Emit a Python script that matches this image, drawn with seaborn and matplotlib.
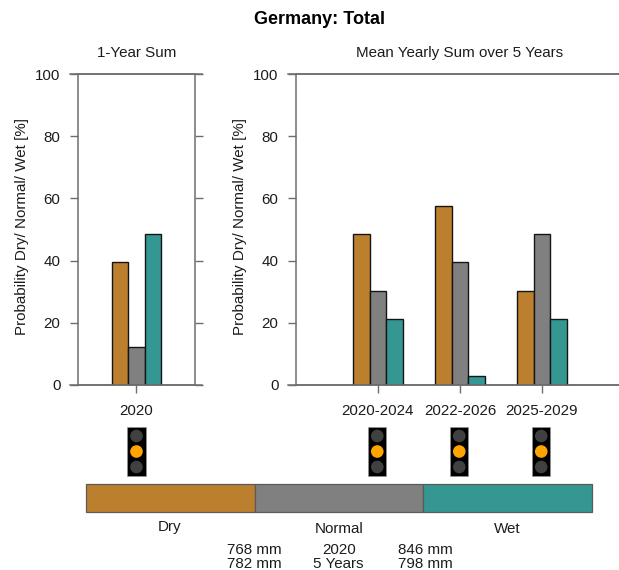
import matplotlib
matplotlib.use("Agg")
import matplotlib.pyplot as plt
from matplotlib.patches import Circle, Rectangle
import pandas as pd
import seaborn as sns

# Probabilities in percent
classes = ["Dry", "Normal", "Wet"]
year_periods = ["2020"]
year_values = [39.4, 12.1, 48.5]
multi_periods = ["2020-2024", "2022-2026", "2025-2029"]
multi_dry = [48.5, 57.6, 30.3]
multi_normal = [30.3, 39.4, 48.5]
multi_wet = [21.2, 3.0, 21.2]
colors = ["#BC7F2E", "#808080", "#359791"]
light_active = 1  # middle lamp lit on every signal
thresholds_low = ["768 mm", "782 mm"]
thresholds_mid = ["2020", "5 Years"]
thresholds_high = ["846 mm", "798 mm"]

W, H = 619, 570
AXC = "#6e6e6e"
TXT = "#1c1c1c"

plt.rcParams["font.family"] = ["Liberation Sans", "DejaVu Sans"]
plt.rcParams["font.size"] = 10.9
plt.rcParams["text.color"] = TXT
plt.rcParams["axes.labelcolor"] = TXT
plt.rcParams["xtick.labelcolor"] = TXT
plt.rcParams["ytick.labelcolor"] = TXT

fig = plt.figure(figsize=(W / 100, H / 100), dpi=100)


def pix_axes(x0, x1, y0, y1):
    return fig.add_axes([x0 / W, 1 - y1 / H, (x1 - x0) / W, (y1 - y0) / H])


def draw_bars(ax, periods, values, xlim, title, title_x):
    df = pd.DataFrame({
        "period": [p for p in periods for _ in classes],
        "cls": classes * len(periods),
        "value": values,
    })
    sns.barplot(data=df, x="period", y="value", hue="cls", hue_order=classes,
                palette=colors, width=0.6, gap=0, saturation=1, legend=False,
                edgecolor="#151515", linewidth=1, ax=ax, zorder=3)
    ax.set_xlim(*xlim)
    ax.set_ylim(0, 100)
    ax.set_yticks(range(0, 101, 20))
    ax.set_xlabel("")
    ax.set_ylabel("Probability Dry/ Normal/ Wet [%]", labelpad=4.6, y=0.51)
    ax.set_title(title, fontsize=10.9, pad=12.5, color=TXT, x=title_x)
    ax.tick_params(axis="x", length=5.6, width=1, color=AXC, pad=8)
    ax.tick_params(axis="y", length=5.6, width=1, color=AXC, pad=7)
    for s in ax.spines.values():
        s.set_color(AXC)
        s.set_linewidth(1.1)


ax1 = pix_axes(78, 194.5, 74, 385)
draw_bars(ax1, year_periods, year_values, (-0.713, 0.707), "1-Year Sum", 0.5)
ax1.tick_params(axis="y", right=True)

ax2 = pix_axes(296, 619, 74, 385)
multi_values = [v for row in zip(multi_dry, multi_normal, multi_wet) for v in row]
draw_bars(ax2, multi_periods, multi_values, (-1.0, 2.94), "Mean Yearly Sum over 5 Years", 0.506)
ax2.spines["right"].set_visible(False)

fig.suptitle("Germany: Total", fontsize=13, fontweight="bold", color="black",
             x=320 / W, y=1 - 20 / H, va="center")

# overlay in pixel coordinates for the signals and the colour key
over = fig.add_axes([0, 0, 1, 1], zorder=5)
over.set_xlim(0, W)
over.set_ylim(H, 0)
over.axis("off")

# axis lines run on to the tick ends
for y in (74, 385):
    over.plot([70, 202], [y, y], color=AXC, lw=1.1)
    over.plot([288, 619], [y, y], color=AXC, lw=1.1)


def data_x(ax, x):
    return ax.transData.transform((x, 0))[0]


signal_x = [data_x(ax1, 0)] + [data_x(ax2, i) - 0.7 for i in range(len(multi_periods))]
for x in signal_x:
    over.add_patch(Rectangle((x - 9.2, 427), 18.4, 49, fc="black", ec="#999999", lw=0.4))
    for i, y in enumerate((436, 451.5, 467)):
        lit = i == light_active
        over.add_patch(Circle((x, y), 6.3, fc="#FFA500" if lit else "#404040", ec="none"))

key_edges = [86, 255, 423, 591.5]
for i, c in enumerate(colors):
    over.add_patch(Rectangle((key_edges[i], 484), key_edges[i + 1] - key_edges[i], 28,
                             fc=c, ec="#5a5a5a", lw=0.9))

for label, x, y in zip(classes, (170, 339, 507), (527, 529, 529)):
    over.text(x, y, label, ha="center", va="center")
for x, lines in zip((254.5, 338.7, 425.5), (thresholds_low, thresholds_mid, thresholds_high)):
    over.text(x, 549.5, lines[0], ha="center", va="center")
    over.text(x, 563.5, lines[1], ha="center", va="center")

fig.savefig("out.png", dpi=100)
